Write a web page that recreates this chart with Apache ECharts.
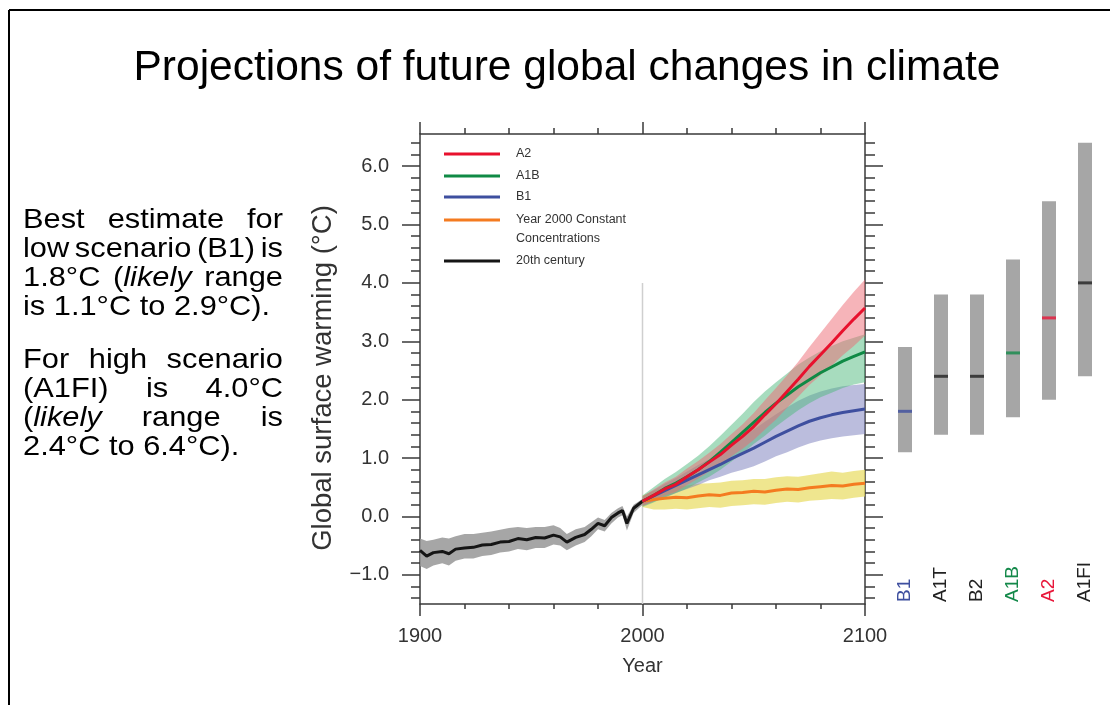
<!DOCTYPE html>
<html>
<head>
<meta charset="utf-8">
<title>Projections of future global changes in climate</title>
<script src="https://cdn.jsdelivr.net/npm/echarts@6.0.0/dist/echarts.min.js"></script>
<style>
  html, body { margin: 0; padding: 0; background: #fff; }
  #chart { width: 1110px; height: 705px; }
</style>
</head>
<body>
<div id="chart"></div>
<script>
var histYears = [1900, 1903, 1906, 1910, 1913, 1916, 1920, 1924, 1928, 1932, 1936, 1940, 1944, 1948, 1952,
  1956, 1960, 1963, 1966, 1970, 1974, 1977, 1980, 1983, 1986, 1989, 1991, 1993, 1996, 2000];
var hist = [-0.58, -0.68, -0.62, -0.60, -0.64, -0.56, -0.54, -0.53, -0.49, -0.48, -0.44, -0.43, -0.38, -0.40, -0.36,
  -0.37, -0.32, -0.35, -0.44, -0.36, -0.31, -0.22, -0.12, -0.16, -0.02, 0.06, 0.10, -0.12, 0.14, 0.26];
var histHi = [-0.38, -0.42, -0.40, -0.36, -0.38, -0.34, -0.30, -0.30, -0.28, -0.26, -0.23, -0.20, -0.18, -0.20, -0.18,
  -0.18, -0.15, -0.20, -0.30, -0.22, -0.18, -0.10, -0.02, -0.06, 0.06, 0.14, 0.18, 0.00, 0.20, 0.30];
var histLo = [-0.85, -0.90, -0.84, -0.80, -0.84, -0.76, -0.72, -0.72, -0.68, -0.66, -0.62, -0.60, -0.56, -0.58, -0.54,
  -0.54, -0.48, -0.50, -0.58, -0.50, -0.44, -0.34, -0.22, -0.26, -0.12, -0.02, 0.02, -0.24, 0.06, 0.20];

// projections 2000-2100
var projYears = [2000, 2005, 2010, 2015, 2020, 2025, 2030, 2035, 2040, 2045, 2050,
  2055, 2060, 2065, 2070, 2075, 2080, 2085, 2090, 2095, 2100];
var a2 = [0.26, 0.36, 0.47, 0.55, 0.68, 0.80, 0.93, 1.06, 1.22, 1.37, 1.54, 1.74, 1.93, 2.14, 2.35, 2.57, 2.77, 2.97, 3.18, 3.38, 3.57];
var a2Hi = [0.34, 0.46, 0.58, 0.68, 0.82, 0.95, 1.09, 1.24, 1.41, 1.58, 1.77, 1.99, 2.20, 2.42, 2.65, 2.90, 3.14, 3.38, 3.62, 3.85, 4.06];
var a2Lo = [0.18, 0.26, 0.36, 0.42, 0.54, 0.65, 0.77, 0.88, 1.03, 1.16, 1.31, 1.49, 1.66, 1.86, 2.05, 2.25, 2.42, 2.58, 2.76, 2.92, 3.10];
var a1b = [0.26, 0.36, 0.48, 0.57, 0.68, 0.80, 0.94, 1.10, 1.27, 1.44, 1.61, 1.78, 1.94, 2.08, 2.22, 2.34, 2.46, 2.56, 2.66, 2.74, 2.82];
var a1bHi = [0.36, 0.50, 0.64, 0.76, 0.90, 1.04, 1.20, 1.38, 1.57, 1.76, 1.96, 2.14, 2.30, 2.45, 2.60, 2.72, 2.83, 2.92, 3.00, 3.06, 3.12];
var a1bLo = [0.16, 0.24, 0.33, 0.40, 0.48, 0.58, 0.68, 0.80, 0.94, 1.08, 1.24, 1.38, 1.54, 1.68, 1.82, 1.94, 2.04, 2.12, 2.20, 2.26, 2.30];
var b1 = [0.26, 0.35, 0.44, 0.53, 0.62, 0.71, 0.80, 0.89, 0.99, 1.08, 1.17, 1.27, 1.37, 1.46, 1.55, 1.63, 1.69, 1.74, 1.78, 1.81, 1.84];
var b1Hi = [0.34, 0.45, 0.56, 0.66, 0.77, 0.88, 0.98, 1.10, 1.22, 1.35, 1.49, 1.62, 1.75, 1.87, 1.98, 2.07, 2.14, 2.19, 2.23, 2.25, 2.27];
var b1Lo = [0.18, 0.25, 0.32, 0.40, 0.47, 0.54, 0.62, 0.68, 0.75, 0.80, 0.86, 0.94, 1.03, 1.10, 1.18, 1.25, 1.30, 1.34, 1.37, 1.39, 1.41];
var constConc = [0.26, 0.29, 0.31, 0.33, 0.32, 0.35, 0.37, 0.36, 0.40, 0.41, 0.43, 0.42, 0.45, 0.47, 0.46, 0.49, 0.51, 0.53, 0.52, 0.55, 0.57];
var constHi = [0.36, 0.44, 0.50, 0.52, 0.53, 0.56, 0.57, 0.58, 0.61, 0.62, 0.64, 0.64, 0.67, 0.69, 0.68, 0.71, 0.74, 0.77, 0.75, 0.78, 0.80];
var constLo = [0.16, 0.12, 0.12, 0.13, 0.12, 0.14, 0.16, 0.15, 0.18, 0.19, 0.21, 0.20, 0.23, 0.25, 0.24, 0.27, 0.28, 0.30, 0.29, 0.32, 0.34];

// year-2000 divider line
var divider = [[2000, -1.5], [2000, 4.0]];

// likely ranges at 2100 per scenario
var scenarios = ['B1', 'A1T', 'B2', 'A1B', 'A2', 'A1FI'];
var rangeLow = [1.1, 1.4, 1.4, 1.7, 2.0, 2.4];
var rangeHigh = [2.9, 3.8, 3.8, 4.4, 5.4, 6.4];
var bestEstimate = [1.8, 2.4, 2.4, 2.8, 3.4, 4.0];
var scenarioColors = ['#3e4f9f', '#222222', '#222222', '#14894a', '#e8173a', '#222222'];

// axis ticks
var yTicks = [-1, 0, 1, 2, 3, 4, 5, 6];
var yMinorTicks = [-1.4, -1.2, -0.8, -0.6, -0.4, -0.2, 0.2, 0.4, 0.6, 0.8, 1.2, 1.4, 1.6, 1.8,
  2.2, 2.4, 2.6, 2.8, 3.2, 3.4, 3.6, 3.8, 4.2, 4.4, 4.6, 4.8, 5.2, 5.4, 5.6, 5.8, 6.2, 6.4];

var FONT = '"Liberation Sans", Arial, sans-serif';
var Y_MIN = -1.5, Y_MAX = 6.55;
var AXIS_COLOR = '#3a3a3a';

// 连成 [x, y] 点
function pairs(xs, ys) {
  return xs.map(function (x, i) { return [x, ys[i]]; });
}

// 置信带：按上沿、下沿画一个多边形
function band(name, xs, lo, hi, fill) {
  return {
    name: name, type: 'custom', xAxisIndex: 0, yAxisIndex: 0, silent: true,
    data: xs.map(function (x, i) { return [x, lo[i], hi[i]]; }),
    encode: { x: 0, y: [1, 2] },
    renderItem: function (params, api) {
      if (params.dataIndex !== 0) return null;
      var pts = [], i;
      for (i = 0; i < xs.length; i++) pts.push(api.coord([xs[i], hi[i]]));
      for (i = xs.length - 1; i >= 0; i--) pts.push(api.coord([xs[i], lo[i]]));
      return { type: 'polygon', shape: { points: pts }, style: { fill: fill } };
    }
  };
}

function line(name, xs, ys, color) {
  return {
    name: name, type: 'line', xAxisIndex: 0, yAxisIndex: 0, data: pairs(xs, ys),
    symbol: 'none', color: color, lineStyle: { color: color, width: 3 }, silent: true
  };
}

// 两端对齐的说明文字
var measureCtx = document.createElement('canvas').getContext('2d');
var paraSize = 28, paraScale = 1.1, paraLeft = 23, paraRight = 283;
var paraLines = [
  { y: 220, justify: true, words: [[['Best']], [['estimate']], [['for']]] },
  { y: 249, justify: true, words: [[['low']], [['scenario']], [['(B1)']], [['is']]] },
  { y: 278, justify: true, words: [[['1.8°C']], [['('], ['likely', 1]], [['range']]] },
  { y: 307, justify: false, words: [[['is 1.1°C to 2.9°C).']]] },
  { y: 360, justify: true, words: [[['For']], [['high']], [['scenario']]] },
  { y: 389, justify: true, words: [[['(A1FI)']], [['is']], [['4.0°C']]] },
  { y: 418, justify: true, words: [[['('], ['likely', 1]], [['range']], [['is']]] },
  { y: 447, justify: false, words: [[['2.4°C to 6.4°C).']]] }
];
function segWidth(seg) {
  measureCtx.font = (seg[1] ? 'italic ' : '') + paraSize + 'px ' + FONT;
  return measureCtx.measureText(seg[0]).width;
}
var paraGraphics = [];
paraLines.forEach(function (ln) {
  var widths = ln.words.map(function (w) {
    return w.reduce(function (s, seg) { return s + segWidth(seg); }, 0) * paraScale;
  });
  var total = widths.reduce(function (a, b) { return a + b; }, 0);
  var gap = ln.justify && ln.words.length > 1 ? (paraRight - paraLeft - total) / (ln.words.length - 1) : 0;
  var x = paraLeft;
  ln.words.forEach(function (w, i) {
    var text = w.map(function (seg) { return (seg[1] ? '{i|' : '{n|') + seg[0] + '}'; }).join('');
    paraGraphics.push({
      type: 'text', x: x, y: ln.y, scaleX: paraScale, silent: true,
      style: {
        text: text, fill: '#000', align: 'left', verticalAlign: 'middle',
        textAlign: 'left', textVerticalAlign: 'middle',
        rich: {
          n: { fontSize: paraSize, fontFamily: FONT, color: '#000' },
          i: { fontSize: paraSize, fontFamily: FONT, fontStyle: 'italic', color: '#000' }
        }
      }
    });
    x += widths[i] + gap;
  });
});

var chart = echarts.init(document.getElementById('chart'));

var legendBase = {
  orient: 'vertical', left: 444, padding: 0, icon: 'rect', itemWidth: 56, itemHeight: 3,
  selectedMode: false,
  textStyle: { fontSize: 12.5, color: '#333', fontFamily: FONT, lineHeight: 19, padding: [0, 0, 0, 11] }
};
function legend(name, top, extra) {
  return Object.assign({}, legendBase, { data: [name], top: top }, extra || {});
}

var series = [
  band('hist band', histYears, histLo, histHi, 'rgba(150,150,150,0.85)'),
  band('const band', projYears, constLo, constHi, 'rgba(232,220,95,0.7)'),
  band('b1 band', projYears, b1Lo, b1Hi, 'rgba(120,124,188,0.5)'),
  band('a1b band', projYears, a1bLo, a1bHi, 'rgba(80,185,125,0.5)'),
  band('a2 band', projYears, a2Lo, a2Hi, 'rgba(238,105,115,0.5)'),
  {
    name: 'divider', type: 'line', xAxisIndex: 0, yAxisIndex: 0, data: divider, symbol: 'none',
    lineStyle: { color: '#cfcfcf', width: 1.5 }, silent: true, z: 1
  },
  line('20th century', histYears, hist, '#151515'),
  line('Year 2000 Constant Concentrations', projYears, constConc, '#f47b20'),
  line('B1', projYears, b1, '#3e4f9f'),
  line('A1B', projYears, a1b, '#0f8a45'),
  line('A2', projYears, a2, '#e8112d'),
  {
    name: 'range base', type: 'bar', xAxisIndex: 2, yAxisIndex: 4, stack: 'range', data: rangeLow,
    barWidth: 14, itemStyle: { color: 'rgba(0,0,0,0)' }, silent: true
  },
  {
    name: 'likely range', type: 'bar', xAxisIndex: 2, yAxisIndex: 4, stack: 'range',
    data: rangeHigh.map(function (h, i) { return +(h - rangeLow[i]).toFixed(2); }),
    barWidth: 14, itemStyle: { color: '#a6a6a6' }, silent: true
  },
  {
    name: 'best estimate', type: 'scatter', xAxisIndex: 2, yAxisIndex: 4, symbol: 'rect',
    symbolSize: [14, 3], z: 5, silent: true,
    data: bestEstimate.map(function (v, i) { return { value: v, itemStyle: { color: scenarioColors[i] } }; })
  }
];

function tickLabel(v) {
  return (v < 0 ? '\u2212' : '') + Math.abs(v).toFixed(1);
}

var lineStyle = { color: AXIS_COLOR, width: 1.5 };

var option = {
  animation: false,
  backgroundColor: '#fff',
  textStyle: { fontFamily: FONT },
  grid: [
    { left: 420, top: 134, width: 445, height: 470 },
    { left: 887, top: 134, width: 216, height: 470 }
  ],
  xAxis: [
    {
      type: 'value', gridIndex: 0, position: 'bottom', min: 1900, max: 2100, interval: 100,
      axisLine: { show: true, onZero: false, lineStyle: lineStyle },
      axisTick: { show: true, length: 12, lineStyle: lineStyle },
      minorTick: { show: true, splitNumber: 5, length: 5, lineStyle: lineStyle },
      splitLine: { show: false },
      axisLabel: { fontSize: 20, color: '#333', margin: 22, formatter: function (v) { return String(v); } },
      name: 'Year', nameLocation: 'middle', nameGap: 52,
      nameTextStyle: { fontSize: 20, color: '#333' }
    },
    {
      type: 'value', gridIndex: 0, position: 'top', min: 1900, max: 2100, interval: 100,
      axisLine: { show: true, onZero: false, lineStyle: lineStyle },
      axisTick: { show: true, length: 12, lineStyle: lineStyle },
      minorTick: { show: true, splitNumber: 5, length: 6, lineStyle: lineStyle },
      splitLine: { show: false },
      axisLabel: { show: false }
    },
    {
      type: 'category', gridIndex: 1, data: scenarios,
      axisLine: { show: false }, axisTick: { show: false },
      axisLabel: {
        inside: true, rotate: 90, margin: 2, fontSize: 19,
        color: function (v, i) { return scenarioColors[i]; }
      }
    }
  ],
  yAxis: [
    {
      type: 'value', gridIndex: 0, position: 'left', min: Y_MIN, max: Y_MAX,
      axisLine: { show: true, onZero: false, lineStyle: lineStyle },
      axisTick: { show: true, customValues: yTicks, length: 18, lineStyle: lineStyle },
      axisLabel: { customValues: yTicks, formatter: tickLabel, fontSize: 20, color: '#333', margin: 31 },
      splitLine: { show: false }
    },
    {
      type: 'value', gridIndex: 0, position: 'left', min: Y_MIN, max: Y_MAX,
      axisLine: { show: false },
      axisTick: { show: true, customValues: yMinorTicks, length: 9, lineStyle: lineStyle },
      axisLabel: { show: false }, splitLine: { show: false }
    },
    {
      type: 'value', gridIndex: 0, position: 'right', min: Y_MIN, max: Y_MAX,
      axisLine: { show: true, onZero: false, lineStyle: lineStyle },
      axisTick: { show: true, customValues: yTicks, length: 18, lineStyle: lineStyle },
      axisLabel: { show: false }, splitLine: { show: false }
    },
    {
      type: 'value', gridIndex: 0, position: 'right', min: Y_MIN, max: Y_MAX,
      axisLine: { show: false },
      axisTick: { show: true, customValues: yMinorTicks, length: 10, lineStyle: lineStyle },
      axisLabel: { show: false }, splitLine: { show: false }
    },
    { type: 'value', gridIndex: 1, min: Y_MIN, max: Y_MAX, show: false }
  ],
  legend: [
    legend('A2', 144.5),
    legend('A1B', 166.5),
    legend('B1', 187.5),
    // 空的首行让图标对齐第一行文字
    legend('Year 2000 Constant Concentrations', 191.5, {
      formatter: ' \nYear 2000 Constant\nConcentrations'
    }),
    legend('20th century', 251.5)
  ],
  graphic: [
    { type: 'line', shape: { x1: 9, y1: 10, x2: 1110, y2: 10 }, style: { stroke: '#000', lineWidth: 2 }, silent: true },
    { type: 'line', shape: { x1: 9, y1: 10, x2: 9, y2: 705 }, style: { stroke: '#000', lineWidth: 2 }, silent: true },
    {
      type: 'text', x: 567, y: 68, silent: true,
      style: {
        text: 'Projections of future global changes in climate', fill: '#000',
        fontSize: 42.5, fontFamily: FONT, align: 'center', verticalAlign: 'middle',
        textAlign: 'center', textVerticalAlign: 'middle'
      }
    },
    {
      type: 'text', x: 323, y: 378, rotation: Math.PI / 2, silent: true,
      style: {
        text: 'Global surface warming (°C)', fill: '#333',
        fontSize: 27.5, fontFamily: FONT, align: 'center', verticalAlign: 'middle',
        textAlign: 'center', textVerticalAlign: 'middle'
      }
    }
  ].concat(paraGraphics),
  series: series
};

chart.setOption(option);
</script>
</body>
</html>
